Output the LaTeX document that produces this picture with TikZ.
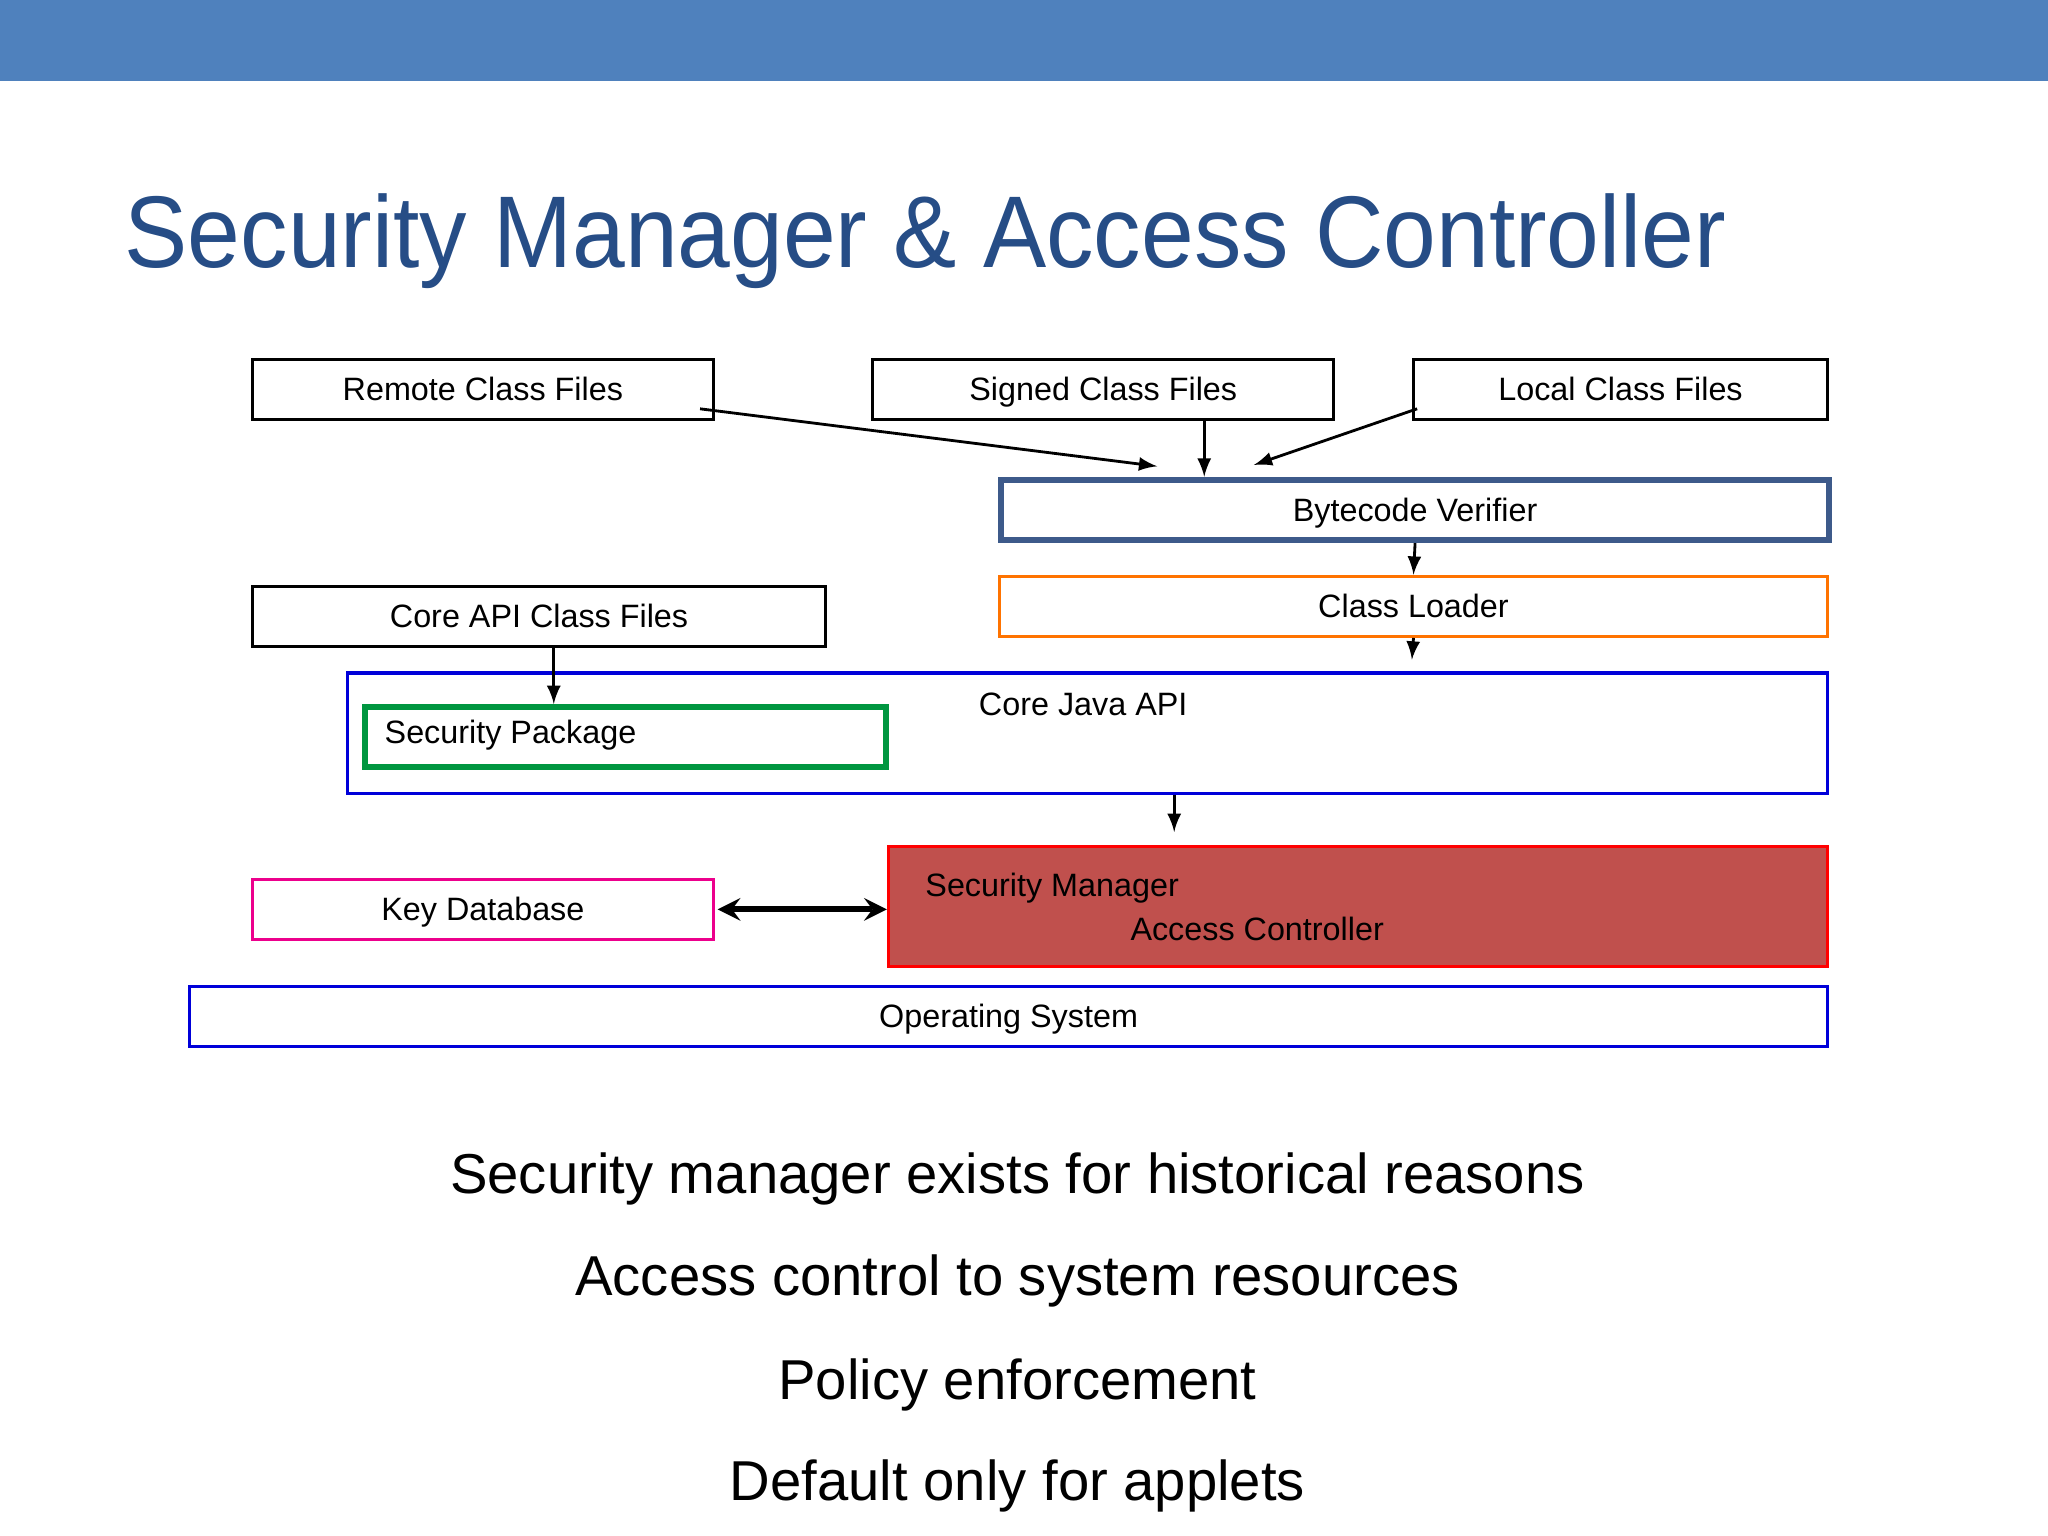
\documentclass[tikz,border=0pt]{standalone}
\usepackage{fontspec}
\setmainfont{Liberation Sans}
\usetikzlibrary{arrows,positioning}
\definecolor{barblue}{HTML}{4F81BD}
\definecolor{titleblue}{HTML}{264D86}
\definecolor{bvblue}{HTML}{3D5A8A}
\definecolor{smred}{HTML}{C0504D}
\tikzset{
    raw box/.style={rectangle, draw, line width=0.9pt, inner sep=0pt, anchor=north west, align=center, text height=1.6ex, text depth=0.4ex, font=\fontsize{9.2}{11}\selectfont},
    plain box/.style={raw box, black, text=black},
    bv box/.style={raw box, bvblue, line width=1.8pt, text=black},
    cl box/.style={raw box, orange!90!red, text=black},
    api box/.style={raw box, blue!85!black, text=black},
    sp box/.style={raw box, green!45!black!75!cyan, line width=1.8pt, text=black},
    kd box/.style={raw box, magenta, text=black},
    sm box/.style={raw box, red, fill=smred, text=black},
    label/.style={font=\fontsize{9.2}{11}\selectfont, inner sep=0pt},
    point/.style={font=\fontsize{16}{18}\selectfont, inner sep=0pt}
}
\begin{document}
\begin{tikzpicture}[x=0.013061cm, y=-0.013061cm, >=latex]
	\useasboundingbox (0,0) rectangle (1568,1176);
	\fill[barblue] (0,0) rectangle (1568,62);
	\node[anchor=base west, inner sep=0pt, text=titleblue, font=\fontsize{29}{33}\selectfont, xscale=0.93] (title) at (95,205) {Security Manager \& Access Controller};
	% top row
	\node[plain box, minimum width=353*0.013061cm, minimum height=46*0.013061cm] (remote) at (192,274) {Remote Class Files};
	\node[plain box, minimum width=353*0.013061cm, minimum height=46*0.013061cm] (signed) at (667,274) {Signed Class Files};
	\node[plain box, minimum width=317*0.013061cm, minimum height=46*0.013061cm] (local) at (1081,274) {Local Class Files};
	\node[bv box, minimum width=634*0.013061cm, minimum height=46*0.013061cm] (verifier) at (764,365) {Bytecode Verifier};
	\node[cl box, minimum width=634*0.013061cm, minimum height=46*0.013061cm] (loader) at (764,440) {Class Loader};
	\node[plain box, minimum width=439*0.013061cm, minimum height=46*0.013061cm] (coreapi) at (192,448) {Core API Class Files};
	% core java api
	\node[api box, minimum width=1133*0.013061cm, minimum height=92*0.013061cm] (corejava) at (265,514) {};
	\node[label, anchor=west] (corejavalbl) at (749,539) {Core Java API};
	\node[sp box, minimum width=399*0.013061cm, minimum height=46*0.013061cm] (secpkg) at (277,539) {};
	\node[label, anchor=west] (secpkglbl) at (294,563) {Security Package};
	% security manager
	\node[kd box, minimum width=353*0.013061cm, minimum height=46*0.013061cm] (keydb) at (192,672) {Key Database};
	\node[sm box, minimum width=719*0.013061cm, minimum height=92*0.013061cm] (secmgr) at (679,647) {};
	\node[label, anchor=west] (secmgrlbl) at (708,680) {Security Manager};
	\node[label, anchor=west] (acclbl) at (865,711) {Access Controller};
	\node[api box, minimum width=1254*0.013061cm, minimum height=46*0.013061cm] (os) at (144,754) {Operating System};
	% arrows
	\coordinate (inremote) at (886,357);
	\coordinate (inlocal) at (960,356);
	\coordinate (inloader) at (1081,505);
	\coordinate (injava) at (899,637);
	\draw[->, thick] (536,313) -- (inremote);
	\draw[->, thick] (signed.south -| 922,0) -- (verifier.north -| 922,0);
	\draw[->, thick] (1085,313) -- (inlocal);
	\draw[->, thick] (verifier.south) -- (loader.north);
	\draw[->, thick] (loader.south) -- (inloader);
	\draw[->, thick] (coreapi.south -| 424,0) -- (secpkg.north -| 424,0);
	\draw[->, thick] (corejava.south -| 899,0) -- (injava);
	\draw[<->, line width=1.8pt, >=stealth] (keydb.east) ++(2,0) -- (secmgr.west |- keydb.east);
	% points
	\node[point] (p1) at (779,903) {Security manager exists for historical reasons};
	\node[point] (p2) at (779,981) {Access control to system resources};
	\node[point] (p3) at (779,1060) {Policy enforcement};
	\node[point] (p4) at (779,1138) {Default only for applets};
\end{tikzpicture}
\end{document}
